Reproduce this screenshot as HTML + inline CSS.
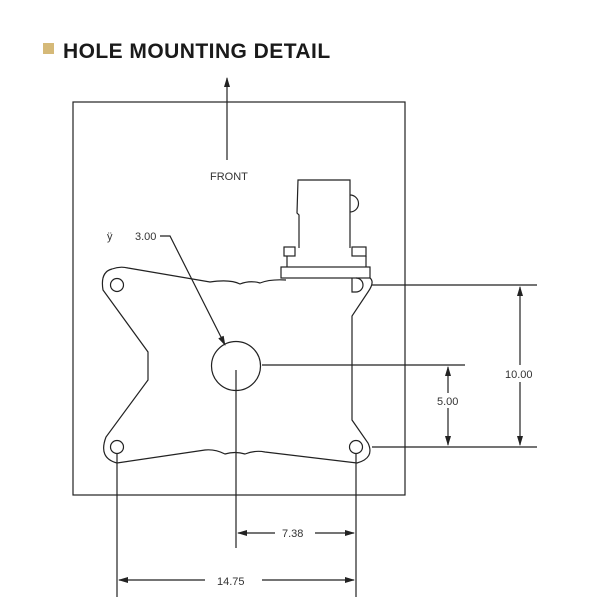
<!DOCTYPE html>
<html><head><style>body{margin:0;background:#fff}svg{display:block}</style></head><body>
<svg width="605" height="611" viewBox="0 0 605 611" xmlns="http://www.w3.org/2000/svg">
<defs><marker id="a" markerWidth="10" markerHeight="8" refX="9" refY="4" orient="auto" markerUnits="userSpaceOnUse"><path d="M0,1 L10,4 L0,7 Z" fill="#222"/></marker></defs>
<rect x="43" y="43" width="11" height="11" fill="#d5b978"/>
<text x="63" y="58" font-family="Liberation Sans, sans-serif" font-weight="bold" font-size="21" letter-spacing="0.45" fill="#1a1a1a">HOLE MOUNTING DETAIL</text>
<g fill="none" stroke="#222" stroke-width="1.2">
<rect x="73" y="102" width="332" height="393"/>
<line x1="227" y1="160" x2="227" y2="78" marker-end="url(#a)"/>
<path d="M112,269 Q100,272 103,290 L148,352 L148,380 L106,437 Q98,458 117,463 L205,450 Q215,449 225,454 Q235,451 245,454 Q255,450 265,452 L357,463 Q375,458 368,443 L352,420 L352,316 L368,292 Q375,282 370,278 M286,280 Q270,279 260,283 Q250,280 240,284 Q230,279 210,282 L128,268 Q120,266 112,269"/>
<circle cx="117" cy="285" r="6.5"/>
<circle cx="117" cy="447" r="6.5"/>
<circle cx="356" cy="447" r="6.5"/>
<circle cx="236" cy="366" r="24.5"/>
<path d="M352,278 L352,292 L356,292 A7,7 0 0 0 356,278"/>
<path d="M299,248 L299,215 L297,213 L298,180 L350,180 L350,248"/>
<path d="M350,195 A8,8 0 0 1 350,212"/>
<rect x="284" y="247" width="11" height="9"/>
<rect x="352" y="247" width="14" height="9"/>
<path d="M287,256 L287,267 M366,256 L366,267"/>
<rect x="281" y="267" width="89" height="11"/>
<line x1="372" y1="285" x2="537" y2="285"/>
<line x1="372" y1="447" x2="537" y2="447"/>
<line x1="262" y1="365" x2="465" y2="365"/>
<line x1="520" y1="365" x2="520" y2="287" marker-end="url(#a)"/>
<line x1="520" y1="382" x2="520" y2="445" marker-end="url(#a)"/>
<line x1="448" y1="393" x2="448" y2="367" marker-end="url(#a)"/>
<line x1="448" y1="408" x2="448" y2="445" marker-end="url(#a)"/>
<line x1="236" y1="370" x2="236" y2="548"/>
<line x1="356" y1="453" x2="356" y2="597"/>
<line x1="117" y1="453" x2="117" y2="597"/>
<line x1="275" y1="533" x2="238" y2="533" marker-end="url(#a)"/>
<line x1="315" y1="533" x2="354" y2="533" marker-end="url(#a)"/>
<line x1="205" y1="580" x2="119" y2="580" marker-end="url(#a)"/>
<line x1="262" y1="580" x2="354" y2="580" marker-end="url(#a)"/>
<path d="M160,236 L170,236 L225,345" marker-end="url(#a)"/>
</g>
<g font-family="Liberation Sans, sans-serif" font-size="11" fill="#333">
<text x="210" y="180">FRONT</text>
<text x="107" y="240">ÿ</text>
<text x="135" y="240">3.00</text>
<text x="505" y="378">10.00</text>
<text x="437" y="405">5.00</text>
<text x="282" y="537">7.38</text>
<text x="217" y="585">14.75</text>
</g>
</svg>
</body></html>
